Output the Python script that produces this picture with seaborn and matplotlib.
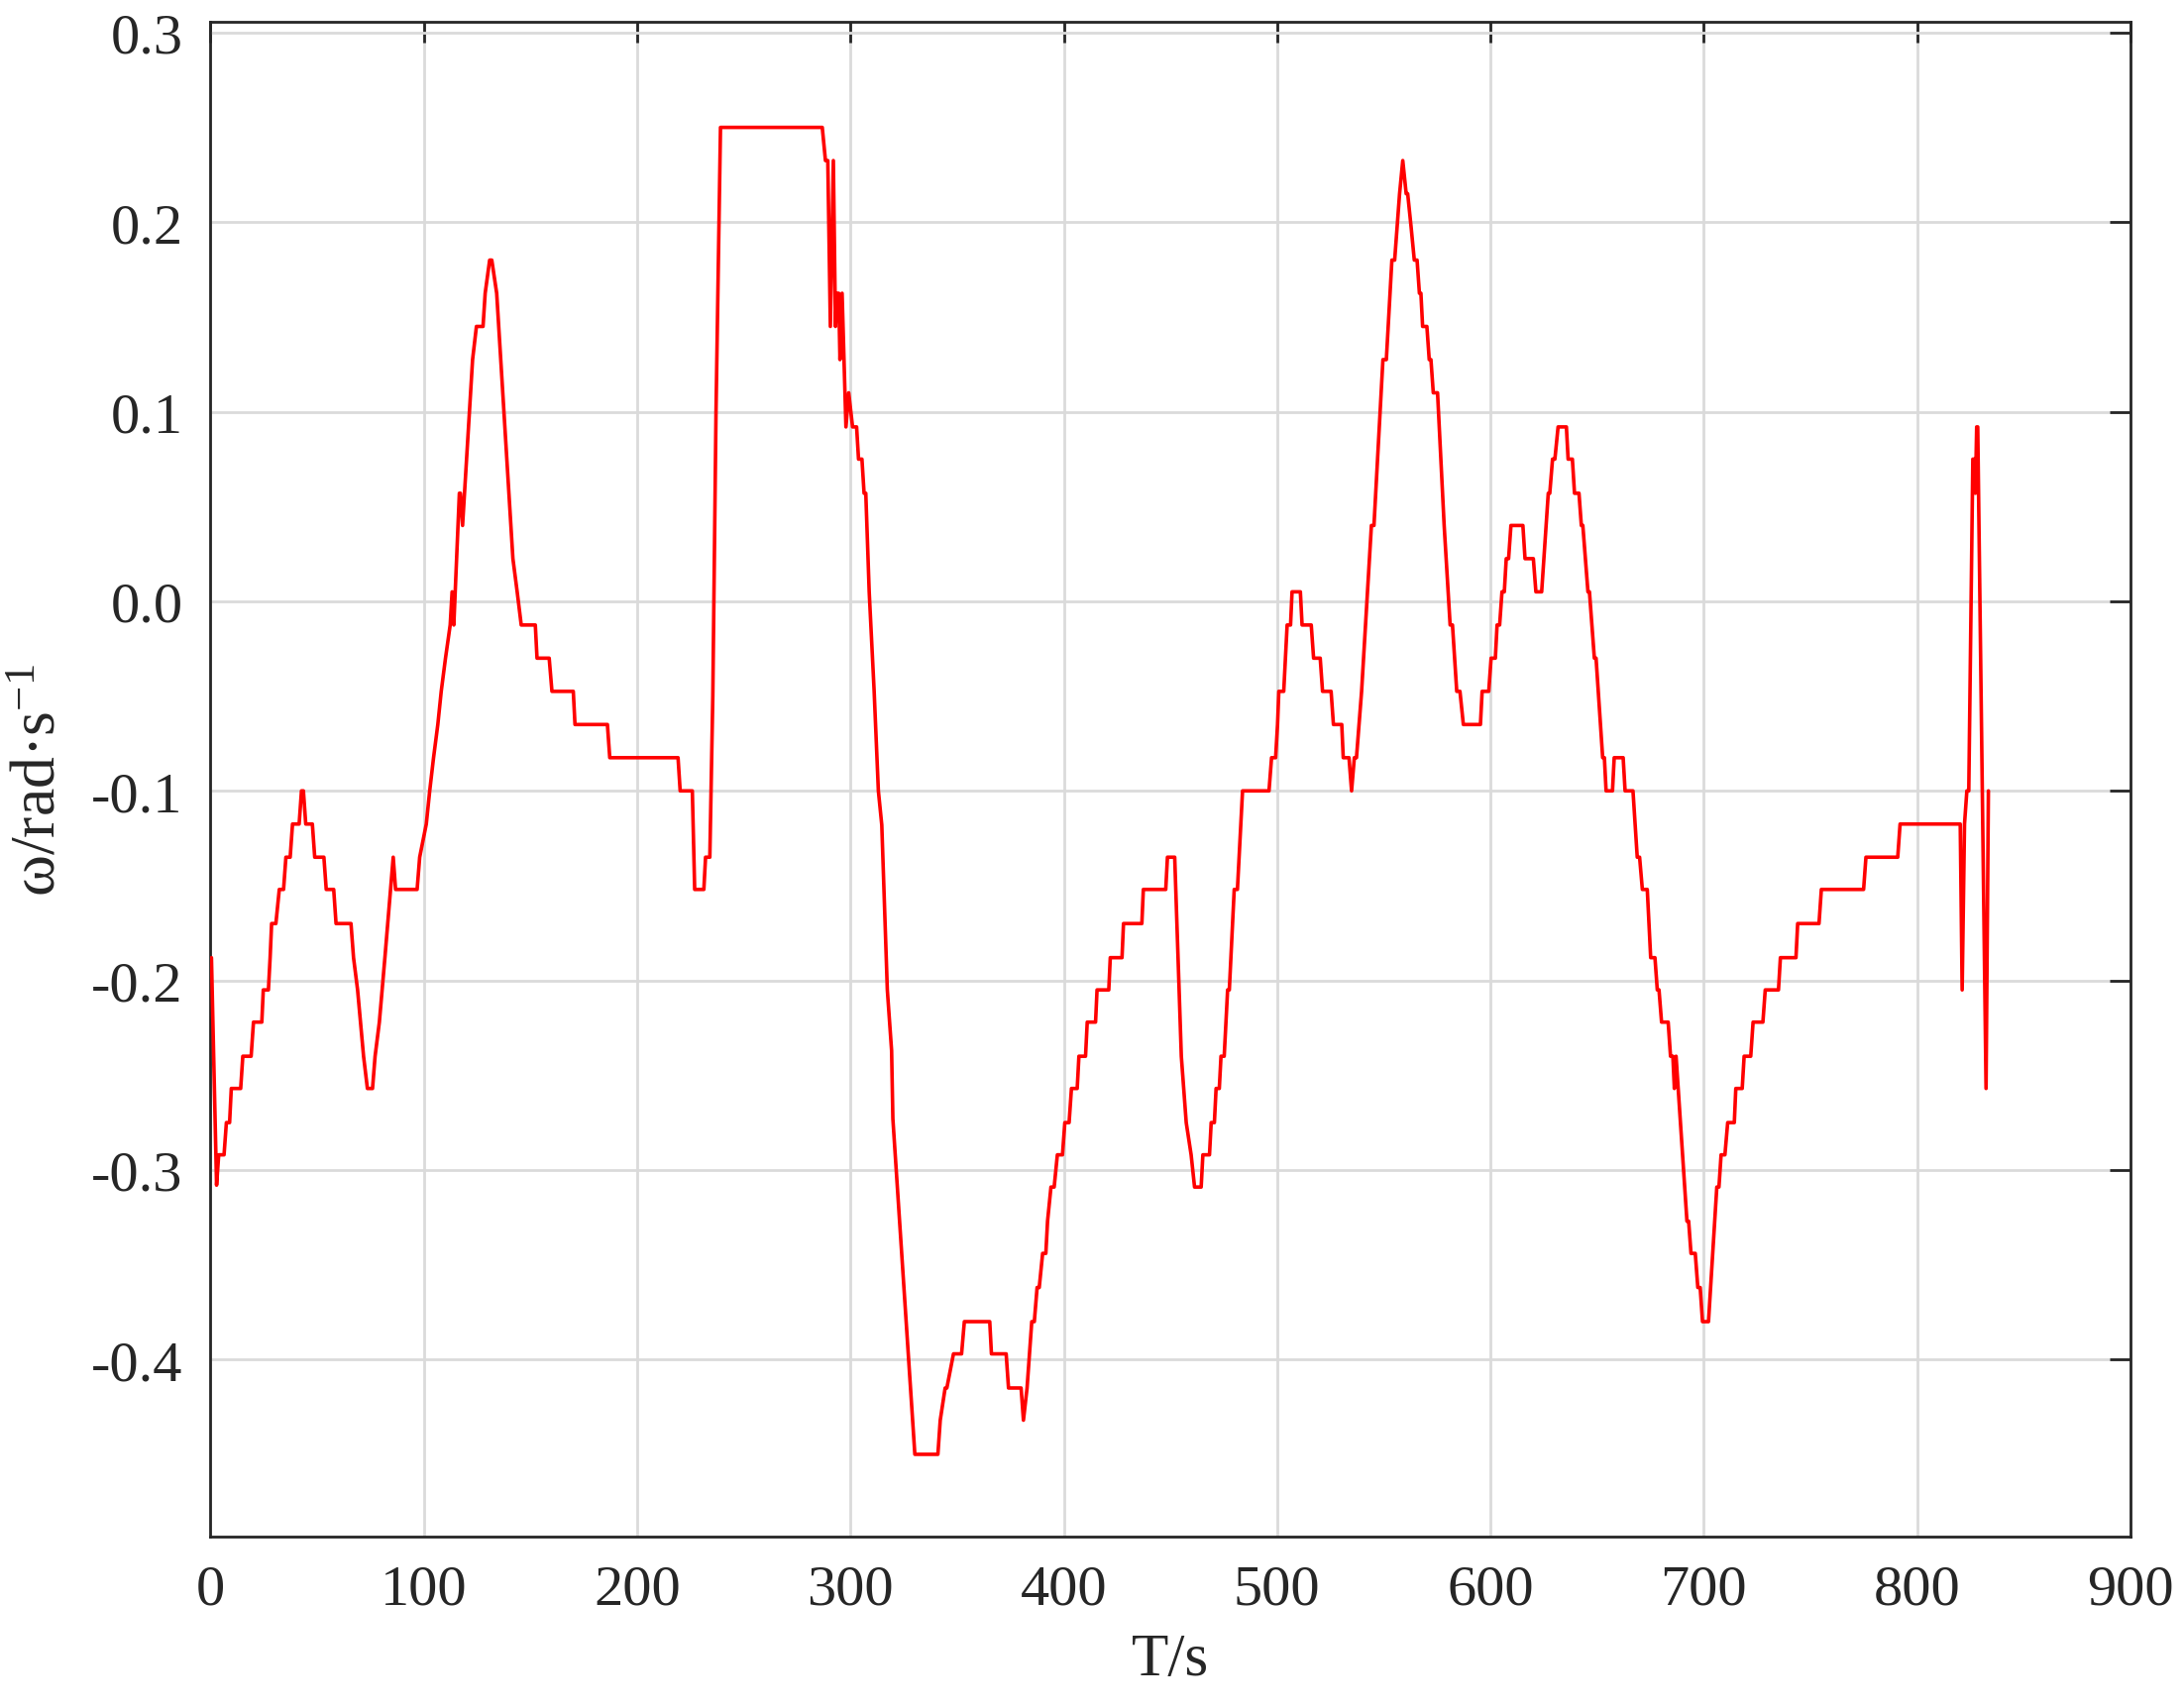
import numpy as np
import pandas as pd
import matplotlib
matplotlib.use("Agg")
import matplotlib.pyplot as plt
import seaborn as sns
from matplotlib.ticker import FixedLocator, FixedFormatter

# ---------------- data ----------------
t_s = [
    0.5, 2.9, 3.9, 6.4, 7.5, 9.0, 9.8, 14.2, 15.2, 19.1, 20.2, 24.1, 24.8, 27.2, 28.0, 28.7,
    30.7, 32.3, 34.3, 35.4, 37.4, 38.5, 41.6, 42.7, 43.6, 44.7, 47.8, 48.9, 53.2, 54.3,
    57.8, 58.9, 65.9, 67.1, 69.0, 71.8, 73.6, 76.0, 77.2, 79.2, 81.8, 85.7, 86.8, 96.9,
    98.1, 101.2, 102.8, 104.6, 106.6, 108.2, 110.2, 112.4, 113.3, 114.1, 116.7, 117.2,
    118.2, 122.9, 124.7, 127.8, 128.8, 130.9, 131.9, 134.2, 139.9, 141.8, 143.8, 145.7,
    152.3, 153.1, 158.8, 160.1, 170.1, 170.9, 186.1, 187.2, 219.2, 220.2, 225.9, 227.0,
    231.3, 232.1, 234.1, 235.5, 237.0, 239.1, 286.8, 288.3, 289.4, 290.6, 292.0, 293.0,
    293.6, 294.5, 295.1, 296.1, 297.9, 299.2, 301.0, 302.9, 303.8, 305.4, 306.4, 307.2,
    308.8, 311.1, 313.1, 314.7, 315.7, 317.3, 319.3, 319.9, 330.2, 341.0, 342.1, 344.4,
    345.2, 348.3, 352.1, 353.4, 365.3, 366.1, 373.0, 374.1, 380.0, 381.1, 382.8, 385.0,
    386.2, 387.5, 388.5, 390.1, 391.6, 392.4, 394.0, 395.5, 397.0, 399.4, 400.5, 402.5,
    403.6, 406.3, 407.1, 410.2, 411.0, 414.9, 415.6, 421.1, 421.8, 427.3, 428.0, 436.6,
    437.3, 447.8, 448.6, 452.0, 455.1, 457.4, 459.7, 461.3, 464.4, 465.2, 468.3, 469.1,
    470.6, 471.4, 472.9, 473.7, 475.2, 476.8, 477.6, 479.9, 481.4, 483.8, 496.2, 497.4,
    499.3, 500.2, 500.8, 503.1, 503.9, 504.7, 506.3, 507.0, 510.9, 511.7, 516.0, 517.1,
    520.2, 521.3, 525.3, 526.4, 530.3, 531.0, 533.7, 534.9, 536.2, 537.2, 539.6, 544.2,
    545.4, 549.6, 551.2, 553.8, 555.1, 557.4, 558.9, 560.5, 561.2, 562.8, 564.3, 565.6,
    566.7, 567.4, 568.2, 570.2, 571.3, 572.1, 573.2, 575.2, 578.3, 581.1, 582.2, 584.2,
    585.7, 587.3, 595.3, 596.1, 599.2, 600.3, 602.3, 603.1, 604.3, 605.4, 606.5, 607.4,
    608.5, 609.6, 615.2, 616.2, 620.1, 621.3, 624.0, 627.1, 627.8, 629.1, 630.2, 631.7,
    635.6, 636.4, 638.4, 639.4, 641.5, 642.6, 643.3, 645.7, 646.4, 648.7, 649.5, 652.6,
    653.4, 654.2, 657.2, 658.0, 662.2, 663.1, 666.8, 668.8, 669.9, 671.2, 673.5, 675.1,
    677.1, 678.2, 679.0, 680.2, 683.3, 684.4, 685.5, 686.2, 687.0, 692.1, 692.9, 694.0,
    696.0, 697.2, 698.3, 699.4, 702.2, 706.1, 707.1, 708.1, 709.9, 711.2, 714.3, 715.0,
    718.0, 718.9, 722.0, 723.1, 727.7, 728.8, 735.0, 735.9, 743.2, 744.0, 754.0, 755.1,
    774.9, 776.0, 790.9, 792.0, 820.2, 821.1, 822.2, 823.3, 824.2, 826.1, 826.9, 827.3,
    827.9, 828.4, 832.3, 833.4,
]
omega = [
    -0.188, -0.308, -0.292, -0.292, -0.275, -0.275, -0.257, -0.257, -0.240, -0.240, -0.222, -0.222, -0.205, -0.205, -0.188, -0.170,
    -0.170, -0.152, -0.152, -0.135, -0.135, -0.1175, -0.1175, -0.100, -0.100, -0.1175, -0.1175, -0.135, -0.135, -0.152,
    -0.152, -0.170, -0.170, -0.188, -0.205, -0.240, -0.257, -0.257, -0.240, -0.222, -0.188, -0.135, -0.152, -0.152,
    -0.135, -0.1175, -0.100, -0.0825, -0.065, -0.0475, -0.030, -0.0125, 0.005, -0.0125, 0.057, 0.057,
    0.040, 0.1275, 0.145, 0.145, 0.1625, 0.180, 0.180, 0.1625, 0.057, 0.0225, 0.005, -0.0125,
    -0.0125, -0.030, -0.030, -0.0475, -0.0475, -0.065, -0.065, -0.0825, -0.0825, -0.100, -0.100, -0.152,
    -0.152, -0.135, -0.135, -0.050, 0.100, 0.250, 0.250, 0.2325, 0.2325, 0.145, 0.2325, 0.145,
    0.1625, 0.1625, 0.1275, 0.1625, 0.092, 0.110, 0.092, 0.092, 0.075, 0.075, 0.057, 0.057,
    0.005, -0.047, -0.100, -0.118, -0.152, -0.205, -0.237, -0.273, -0.450, -0.450, -0.432, -0.415,
    -0.415, -0.397, -0.397, -0.380, -0.380, -0.397, -0.397, -0.415, -0.415, -0.432, -0.415, -0.380,
    -0.380, -0.362, -0.362, -0.344, -0.344, -0.327, -0.309, -0.309, -0.292, -0.292, -0.275, -0.275,
    -0.257, -0.257, -0.240, -0.240, -0.222, -0.222, -0.205, -0.205, -0.188, -0.188, -0.170, -0.170,
    -0.152, -0.152, -0.135, -0.135, -0.240, -0.275, -0.292, -0.309, -0.309, -0.292, -0.292, -0.275,
    -0.275, -0.257, -0.257, -0.240, -0.240, -0.205, -0.205, -0.152, -0.152, -0.100, -0.100, -0.0825,
    -0.0825, -0.065, -0.0475, -0.0475, -0.030, -0.0125, -0.0125, 0.005, 0.005, -0.0125, -0.0125, -0.030,
    -0.030, -0.0475, -0.0475, -0.065, -0.065, -0.0825, -0.0825, -0.100, -0.0825, -0.0825, -0.0475, 0.040,
    0.040, 0.1275, 0.1275, 0.180, 0.180, 0.215, 0.2325, 0.215, 0.215, 0.1975, 0.180, 0.180,
    0.1625, 0.1625, 0.145, 0.145, 0.1275, 0.1275, 0.110, 0.110, 0.040, -0.0125, -0.0125, -0.0475,
    -0.0475, -0.065, -0.065, -0.0475, -0.0475, -0.030, -0.030, -0.0125, -0.0125, 0.005, 0.005, 0.0225,
    0.0225, 0.040, 0.040, 0.0225, 0.0225, 0.005, 0.005, 0.057, 0.057, 0.075, 0.075, 0.092,
    0.092, 0.075, 0.075, 0.057, 0.057, 0.040, 0.040, 0.005, 0.005, -0.030, -0.030, -0.0825,
    -0.0825, -0.100, -0.100, -0.0825, -0.0825, -0.100, -0.100, -0.135, -0.135, -0.152, -0.152, -0.188,
    -0.188, -0.205, -0.205, -0.222, -0.222, -0.240, -0.240, -0.257, -0.240, -0.327, -0.327, -0.344,
    -0.344, -0.362, -0.362, -0.380, -0.380, -0.309, -0.309, -0.292, -0.292, -0.275, -0.275, -0.257,
    -0.257, -0.240, -0.240, -0.222, -0.222, -0.205, -0.205, -0.188, -0.188, -0.170, -0.170, -0.152,
    -0.152, -0.135, -0.135, -0.1175, -0.1175, -0.205, -0.1175, -0.100, -0.100, 0.075, 0.075, 0.057,
    0.092, 0.092, -0.257, -0.100,
]

x_ticks = [0, 100, 200, 300, 400, 500, 600, 700, 800, 900]
y_ticks = [-0.4, -0.3, -0.2, -0.1, 0.0, 0.1, 0.2, 0.3]
y_tick_labels = ["-0.4", "-0.3", "-0.2", "-0.1", "0.0", "0.1", "0.2", "0.3"]
x_label = "T/s"
y_label = "ω/rad·s$^{-1}$"

df = pd.DataFrame({"T": t_s, "omega": omega})

# ---------------- style ----------------
sns.set_style("white")
plt.rcParams["font.family"] = ["Liberation Serif", "DejaVu Serif"]
plt.rcParams["mathtext.fontset"] = "custom"
plt.rcParams["mathtext.rm"] = "Liberation Serif"
plt.rcParams["mathtext.it"] = "Liberation Serif:italic"
plt.rcParams["axes.unicode_minus"] = False

fig = plt.figure(figsize=(11.02, 8.62), dpi=200)
ax = fig.add_axes([0.09633, 0.09977, 0.87917, 0.8871])

sns.lineplot(data=df, x="T", y="omega", sort=False, estimator=None,
             color="#ff0000", linewidth=1.3, ax=ax, zorder=3)

ax.set_xlim(0, 900)
ax.set_ylim(-0.4934, 0.3059)
ax.xaxis.set_major_locator(FixedLocator(x_ticks))
ax.set_xticklabels([str(v) for v in x_ticks])
ax.yaxis.set_major_locator(FixedLocator(y_ticks))
ax.yaxis.set_major_formatter(FixedFormatter(y_tick_labels))

ax.grid(True, color="#dadada", linewidth=1.0, zorder=0)
ax.set_axisbelow(True)
for sp in ax.spines.values():
    sp.set_visible(True)
    sp.set_color("#262626")
    sp.set_linewidth(1.0)

ax.tick_params(axis="both", which="major", direction="in", length=7.5, width=1.0,
               color="#262626", labelsize=21, labelcolor="#262626", pad=10,
               top=True, right=True)

ax.set_xlabel(x_label, fontsize=22, color="#262626", labelpad=6)
ax.set_ylabel(y_label, fontsize=23, color="#262626", labelpad=8)

fig.savefig("out.png", dpi=200)
